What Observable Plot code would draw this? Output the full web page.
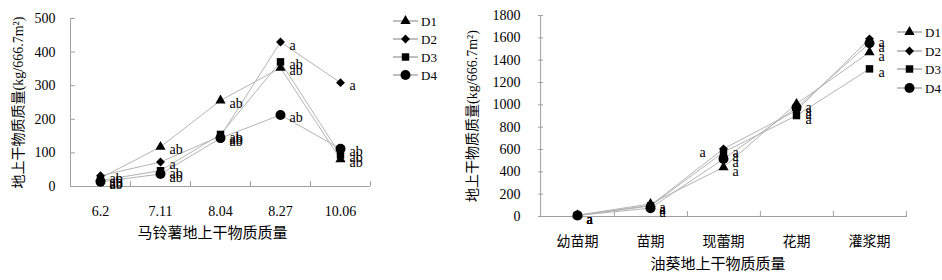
<!DOCTYPE html>
<html><head><meta charset="utf-8">
<script src="https://cdn.jsdelivr.net/npm/d3@7"></script>
<script src="https://cdn.jsdelivr.net/npm/@observablehq/plot@0.6"></script>
<style>
body{margin:0;background:#fff}
#wrap{position:relative;width:942px;height:280px;overflow:hidden;font-family:"Liberation Serif","Noto Sans CJK SC",serif}
#wrap svg{position:absolute;top:0}
</style></head><body><div id="wrap"></div>
<script>
// ---- data ----
const series = ["D1", "D2", "D3", "D4"];

const potatoDates = ["6.2", "7.11", "8.04", "8.27", "10.06"];
const potatoD1 = [25, 118, 256, 353, 81];
const potatoD2 = [32, 73, 150, 430, 309];
const potatoD3 = [18, 47, 155, 371, 94];
const potatoD4 = [14, 37, 144, 213, 112];
const potatoSigD1 = ["ab", "ab", "ab", "ab", "ab"];
const potatoSigD2 = ["ab", "a", "ab", "a", "a"];
const potatoSigD3 = ["ab", "ab", "ab", "ab", "ab"];
const potatoSigD4 = ["ab", "ab", "ab", "ab", "ab"];
const potatoYTicks = [0, 100, 200, 300, 400, 500];

const sunStages = ["幼苗期", "苗期", "现蕾期", "花期", "灌浆期"];
const sunD1 = [12, 113, 441, 1009, 1471];
const sunD2 = [10, 100, 606, 949, 1591];
const sunD3 = [8, 95, 576, 904, 1322];
const sunD4 = [10, 75, 516, 973, 1552];
const sunSigD1 = ["a", "a", "a", "a", "a"];
const sunSigD2 = ["a", "a", "a", "a", "a"];
const sunSigD3 = ["a", "a", "a", "a", "a"];
const sunSigD4 = ["a", "a", "a", "a", "a"];
const sunExtraLabels = [{stage: "现蕾期", series: "D2", text: "a"}];
const sunYTicks = [0, 200, 400, 600, 800, 1000, 1200, 1400, 1600, 1800];

const yLabel = "地上干物质质量(kg/666.7m²)";
const potatoTitle = "马铃薯地上干物质质量";
const sunTitle = "油葵地上干物质质量";

// ---- styles ----
const symbolStyle = {
  D1: {symbol: "triangle", r: 3.8},
  D2: {symbol: "diamond2", r: 4.0},
  D3: {symbol: "square", r: 4.2},
  D4: {symbol: "circle", r: 5}
};
const FONT = '"Liberation Serif","Noto Sans CJK SC",serif';
const AXIS = "#a0a0a0";

function rowsOf(cats, vals, sigs) {
  const rows = [];
  series.forEach((s, i) => cats.forEach((c, j) => rows.push({series: s, cat: c, value: vals[i][j], sig: sigs[i][j]})));
  return rows;
}

function chart(cfg) {
  const {cats, rows, yDomain, yTicks, width, height, mt, mb, ml, mr, tickPad, yPad, yLabelDx, titleDx, titleDy, labelDy, extra} = cfg;
  const plotW = width - ml - mr, plotH = height - mt - mb;
  const step = plotW / cats.length;
  const marks = [
    Plot.ruleY(yTicks, {y: d => d, stroke: AXIS, insetRight: plotW - 5}),
    Plot.ruleX([cats[0]], {x: d => d, dx: -step / 2, stroke: AXIS}),
    Plot.ruleX(cats, {x: d => d, dx: step / 2, stroke: AXIS, insetTop: plotH - 5}),
    Plot.ruleY([0], {stroke: AXIS}),
    Plot.line(rows, {x: "cat", y: "value", z: "series", stroke: "#b4b4b4", strokeWidth: 1}),
    ...series.map(s => Plot.dot(rows.filter(d => d.series === s), {x: "cat", y: "value", symbol: () => symbolStyle[s].symbol, r: symbolStyle[s].r, fill: "#000", stroke: "none"})),
    Plot.text(rows, {x: "cat", y: "value", text: "sig", dx: 9, dy: labelDy, textAnchor: "start", fill: "#000", fontSize: 14}),
    Plot.text([yLabel], {frameAnchor: "left", textAnchor: "middle", dx: yLabelDx, rotate: -90, fill: "#000", fontSize: 14}),
    Plot.text([cfg.title], {frameAnchor: "bottom", textAnchor: "middle", dx: titleDx, dy: titleDy, fill: "#000", fontSize: 15})
  ];
  if (extra) marks.push(Plot.text(extra, {x: "stage", y: "value", text: "text", dx: -24, dy: labelDy, textAnchor: "start", fill: "#000", fontSize: 14}));
  return Plot.plot({
    width, height, marginTop: mt, marginBottom: mb, marginLeft: ml, marginRight: mr,
    style: {fontFamily: FONT, fontSize: "14px", color: "#000", background: "transparent"},
    x: {type: "point", domain: cats, padding: 0.5, tickSize: 0, tickPadding: tickPad, label: null},
    y: {domain: yDomain, ticks: yTicks, tickFormat: d => String(d), tickSize: 0, tickPadding: yPad, label: null},
    symbol: {type: "identity"},
    marks
  });
}

const wrap = document.getElementById("wrap");

const left = chart({
  cats: potatoDates,
  rows: rowsOf(potatoDates, [potatoD1, potatoD2, potatoD3, potatoD4], [potatoSigD1, potatoSigD2, potatoSigD3, potatoSigD4]),
  yDomain: [0, 500], yTicks: potatoYTicks,
  width: 380, height: 280, mt: 18, mb: 94, ml: 70, mr: 10,
  tickPad: 20, yPad: 15, yLabelDx: -52, titleDx: -8, titleDy: 51, labelDy: 3,
  title: potatoTitle
});
left.style.left = "0px";
wrap.appendChild(left);

const sunRows = rowsOf(sunStages, [sunD1, sunD2, sunD3, sunD4], [sunSigD1, sunSigD2, sunSigD3, sunSigD4]);
const extra = sunExtraLabels.map(e => ({...e, value: sunRows.find(r => r.cat === e.stage && r.series === e.series).value}));
const right = chart({
  cats: sunStages, rows: sunRows,
  yDomain: [0, 1800], yTicks: sunYTicks,
  width: 502, height: 280, mt: 15, mb: 64, ml: 98, mr: 35,
  tickPad: 20, yPad: 18, yLabelDx: -66, titleDx: -5, titleDy: 52, labelDy: 4,
  title: sunTitle, extra
});
right.style.left = "440px";
wrap.appendChild(right);

// ---- legends ----
const leg = d3.select(wrap).append("svg").attr("width", 942).attr("height", 280).style("left", "0px");
function legend(x0, ys) {
  series.forEach((s, i) => {
    const g = leg.append("g").attr("transform", `translate(${x0},${ys[i]})`);
    g.append("line").attr("x1", 0).attr("x2", 25).attr("stroke", "#808080");
    const st = symbolStyle[s];
    const sym = {triangle: d3.symbolTriangle, diamond2: d3.symbolDiamond2, square: d3.symbolSquare, circle: d3.symbolCircle}[st.symbol];
    g.append("path").attr("transform", "translate(12.5,0)").attr("d", d3.symbol(sym, Math.PI * st.r * st.r)()).attr("fill", "#000");
    g.append("text").attr("x", 28).attr("dy", "0.35em").attr("font-size", 13).attr("font-family", FONT).text(s);
  });
}
legend(393, [21, 39, 57, 75]);
legend(897, [32, 51, 69, 88]);
</script></body></html>
